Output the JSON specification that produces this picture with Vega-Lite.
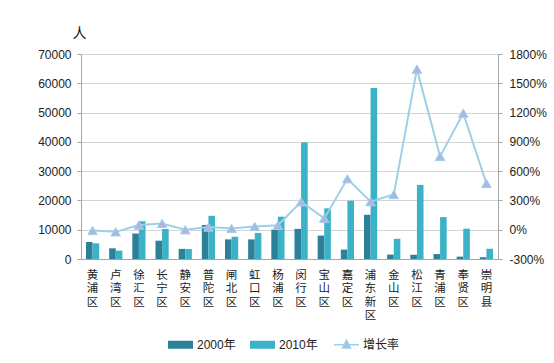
{
  "$schema": "https://vega.github.io/schema/vega-lite/v6.json",
  "width": 417,
  "height": 205,
  "autosize": {"type": "none"},
  "padding": {"left": 81, "top": 54, "right": 56, "bottom": 104},
  "background": "white",
  "config": {
    "view": {"stroke": null},
    "font": "Liberation Sans",
    "axis": {"labelColor": "#222", "labelFontSize": 12, "domainColor": "#a6a6a6", "tickColor": "#a6a6a6"}
  },
  "data": {
    "values": [
      {"区": "黄浦区", "2000年": 5800, "2010年": 5350, "增长率": -8},
      {"区": "卢湾区", "2000年": 3650, "2010年": 2850, "增长率": -22},
      {"区": "徐汇区", "2000年": 8700, "2010年": 12900, "增长率": 48},
      {"区": "长宁区", "2000年": 6250, "2010年": 10240, "增长率": 64},
      {"区": "静安区", "2000年": 3450, "2010年": 3400, "增长率": -1},
      {"区": "普陀区", "2000年": 11600, "2010年": 14750, "增长率": 27},
      {"区": "闸北区", "2000年": 6700, "2010年": 7600, "增长率": 13},
      {"区": "虹口区", "2000年": 6700, "2010年": 8900, "增长率": 33},
      {"区": "杨浦区", "2000年": 10000, "2010年": 14450, "增长率": 45},
      {"区": "闵行区", "2000年": 10300, "2010年": 39800, "增长率": 286},
      {"区": "宝山区", "2000年": 8000, "2010年": 17300, "增长率": 116},
      {"区": "嘉定区", "2000年": 3200, "2010年": 19900, "增长率": 522},
      {"区": "浦东新区", "2000年": 15100, "2010年": 58400, "增长率": 287},
      {"区": "金山区", "2000年": 1500, "2010年": 6900, "增长率": 360},
      {"区": "松江区", "2000年": 1450, "2010年": 25300, "增长率": 1645},
      {"区": "青浦区", "2000年": 1680, "2010年": 14300, "增长率": 751},
      {"区": "奉贤区", "2000年": 800, "2010年": 10350, "增长率": 1194},
      {"区": "崇明县", "2000年": 610, "2010年": 3500, "增长率": 474}
    ]
  },
  "encoding": {
    "x": {
      "field": "区",
      "type": "nominal",
      "sort": null,
      "scale": {"paddingInner": 0.43, "paddingOuter": 0.215},
      "axis": {
        "title": null,
        "labelAngle": 0,
        "ticks": false,
        "labelExpr": "split(datum.label, '')",
        "labelFont": "Noto Sans CJK SC",
        "labelFontSize": 11.5,
        "labelLineHeight": 13.5,
        "labelPadding": 10,
        "labelBaseline": "top"
      }
    }
  },
  "layer": [
    {
      "transform": [{"fold": ["2000年", "2010年"], "as": ["年份", "人数"]}],
      "mark": {"type": "bar"},
      "encoding": {
        "xOffset": {"field": "年份", "type": "nominal", "scale": {"paddingInner": 0, "paddingOuter": 0}},
        "y": {
          "field": "人数",
          "type": "quantitative",
          "scale": {"domain": [0, 70000]},
          "axis": {
            "title": "人",
            "titleAngle": 0,
            "titleX": -2,
            "titleY": -21,
            "titleAlign": "center",
            "titleBaseline": "middle",
            "titleFont": "Noto Sans CJK SC",
            "titleFontSize": 14,
            "titleFontWeight": "normal",
            "titleColor": "#111",
            "values": [0, 10000, 20000, 30000, 40000, 50000, 60000, 70000],
            "format": "d",
            "tickSize": 4,
            "labelPadding": 6,
            "gridColor": "#a8a8a8",
            "gridDash": [1, 1]
          }
        },
        "color": {
          "field": "年份",
          "type": "nominal",
          "scale": {"domain": ["2000年", "2010年", "增长率"], "range": ["#2c8199", "#3bb2c6", "#aab8e2"]},
          "legend": {
            "title": null,
            "orient": "none",
            "legendX": 86,
            "legendY": 277,
            "direction": "horizontal",
            "labelFont": "Liberation Sans, Noto Sans CJK SC",
            "labelFontSize": 12,
            "labelColor": "#222",
            "symbolSize": 625,
            "labelOffset": 3,
            "columnPadding": 13,
            "symbolType": "M-1,-0.32H1V0.32H-1Z",
            "encode": {
              "symbols": {
                "update": {
                  "shape": {"signal": "datum.value === '增长率' ? 'M-1,0H1M0,-0.36L0.32,0.26L-0.32,0.26Z' : 'M-1,-0.32H1V0.32H-1Z'"},
                  "stroke": {"signal": "datum.value === '增长率' ? '#9dd0e8' : null"},
                  "strokeWidth": {"value": 1.5},
                  "opacity": {"value": 1}
                }
              }
            }
          }
        }
      }
    },
    {
      "layer": [
        {
          "mark": {"type": "line", "stroke": "#9dd0e8", "strokeWidth": 2},
          "encoding": {
            "y": {
              "field": "增长率",
              "type": "quantitative",
              "scale": {"domain": [-300, 1800]},
              "axis": {
                "orient": "right",
                "title": null,
                "grid": false,
                "values": [-300, 0, 300, 600, 900, 1200, 1500, 1800],
                "labelExpr": "datum.value + '%'",
                "tickSize": 4,
                "labelPadding": 7
              }
            }
          }
        },
        {
          "mark": {"type": "point", "shape": "triangle-up", "filled": true, "size": 90, "stroke": "#9dd0e8", "strokeWidth": 1, "opacity": 1},
          "encoding": {
            "y": {
              "field": "增长率",
              "type": "quantitative",
              "scale": {"domain": [-300, 1800]},
              "axis": {
                "orient": "right",
                "title": null,
                "grid": false,
                "values": [-300, 0, 300, 600, 900, 1200, 1500, 1800],
                "labelExpr": "datum.value + '%'",
                "tickSize": 4,
                "labelPadding": 7
              }
            },
            "color": {"datum": "增长率"}
          }
        }
      ]
    }
  ],
  "resolve": {"scale": {"y": "independent"}}
}
